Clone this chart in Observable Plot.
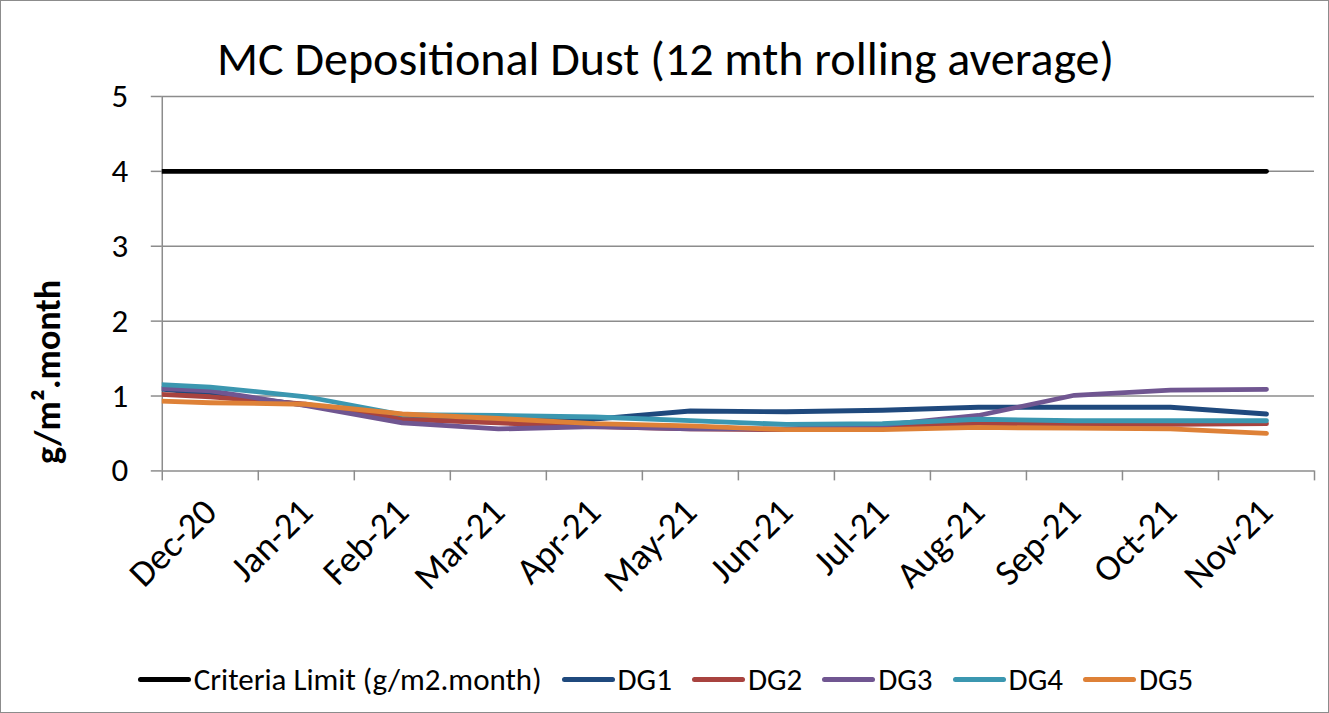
<!DOCTYPE html>
<html><head><meta charset="utf-8">
<script src="https://cdn.jsdelivr.net/npm/d3@7"></script>
<script src="https://cdn.jsdelivr.net/npm/@observablehq/plot@0.6"></script>
<style>
body{margin:0;background:#fff;}
#wrap{position:relative;width:1327px;height:711px;overflow:hidden;border:1px solid #8c8c8c;font-family:Carlito,Calibri,Lato,sans-serif;color:#000;background:#fff;}
#title{position:absolute;left:0;width:1329px;top:30px;text-align:center;font-size:48px;line-height:56px;white-space:nowrap;}
#chart{position:absolute;left:0;top:80px;}
#ytitle{position:absolute;left:47px;top:371px;transform:translate(-50%,-50%) rotate(-90deg);font-size:36px;font-weight:bold;white-space:nowrap;}
#legend{position:absolute;left:0;width:1329px;top:659px;display:flex;justify-content:center;align-items:center;font-size:31px;line-height:38px;white-space:nowrap;}
.item{display:flex;align-items:center;margin:0 10px;}
.sw{width:53px;height:5px;border-radius:3px;margin-right:3px;}
</style></head><body>
<div id="wrap">
  <div id="title">MC Depositional Dust (12 mth rolling average)</div>
  <div id="chart"></div>
  <div id="ytitle">g/m².month</div>
  <div id="legend"></div>
</div>
<script>
// Month labels shown on the axis
const months = ["Dec-20","Jan-21","Feb-21","Mar-21","Apr-21","May-21","Jun-21","Jul-21","Aug-21","Sep-21","Oct-21","Nov-21"];
// Leading period (partly visible, clipped at the axis)
const leadPeriod = "Nov-20";
const periods = [leadPeriod, ...months];

const seriesNames = ["Criteria Limit (g/m2.month)","DG1","DG2","DG3","DG4","DG5"];
const seriesColors = ["#000000","#1F497D","#A8433F","#705691","#3B97B0","#DE8137"];

const criteria = [4,4,4,4,4,4,4,4,4,4,4,4,4];
const dg1 = [1.15,1.03,0.88,0.71,0.67,0.69,0.80,0.79,0.81,0.85,0.85,0.85,0.76];
const dg2 = [1.05,0.99,0.89,0.69,0.64,0.59,0.56,0.55,0.58,0.63,0.62,0.62,0.63];
const dg3 = [1.13,1.07,0.87,0.64,0.56,0.59,0.56,0.56,0.61,0.74,1.01,1.08,1.09];
const dg4 = [1.18,1.12,0.99,0.75,0.74,0.72,0.67,0.62,0.63,0.69,0.67,0.67,0.67];
const dg5 = [0.95,0.91,0.89,0.76,0.70,0.63,0.60,0.55,0.55,0.58,0.57,0.56,0.50];

const yTicks = [0,1,2,3,4,5];

const seriesValues = [criteria, dg1, dg2, dg3, dg4, dg5];
const rows = [];
seriesValues.forEach((vals, s) => {
  vals.forEach((v, i) => rows.push({series: seriesNames[s], period: periods[i], pos: i - 0.5, value: v}));
});

const grid = "#8c8c8c";
const font = "Carlito, Calibri, Lato, sans-serif";

const chart = Plot.plot({
  width: 1329,
  height: 500,
  marginTop: 15,
  marginLeft: 161,
  marginRight: 14,
  marginBottom: 110,
  style: {fontFamily: font, background: "transparent", overflow: "visible"},
  x: {domain: [0, months.length], axis: null},
  y: {domain: [0, 5], axis: null},
  color: {domain: seriesNames, range: seriesColors},
  marks: [
    Plot.ruleY(yTicks, {stroke: grid, strokeWidth: 1.5}),
    Plot.ruleX([0], {stroke: grid, strokeWidth: 1.5}),
    Plot.axisY({ticks: yTicks, tickSize: 11, tickPadding: 23, fontSize: 33, stroke: grid, strokeWidth: 1.5, strokeOpacity: 1, fill: "#000", label: null, tickFormat: d => String(d)}),
    Plot.axisX({ticks: d3.range(months.length + 1), tickSize: 10, stroke: grid, strokeWidth: 1.5, strokeOpacity: 1, tickFormat: () => "", label: null}),
    Plot.text(months, {x: (d, i) => i + 0.5, y: () => 0, text: d => d, rotate: -45, textAnchor: "end", lineAnchor: "middle", dx: 0, dy: 35, fontSize: 37, fill: "#000"}),
    Plot.line(rows, {x: "pos", y: "value", z: "series", stroke: "series", strokeWidth: 4.8, strokeLinecap: "round", strokeLinejoin: "round", clip: true})
  ]
});
document.getElementById("chart").appendChild(chart);

const legend = document.getElementById("legend");
seriesNames.forEach((name, i) => {
  const it = document.createElement("div");
  it.className = "item";
  const sw = document.createElement("div");
  sw.className = "sw";
  sw.style.background = seriesColors[i];
  const tx = document.createElement("span");
  tx.textContent = name;
  it.appendChild(sw); it.appendChild(tx);
  legend.appendChild(it);
});
</script>
</body></html>
